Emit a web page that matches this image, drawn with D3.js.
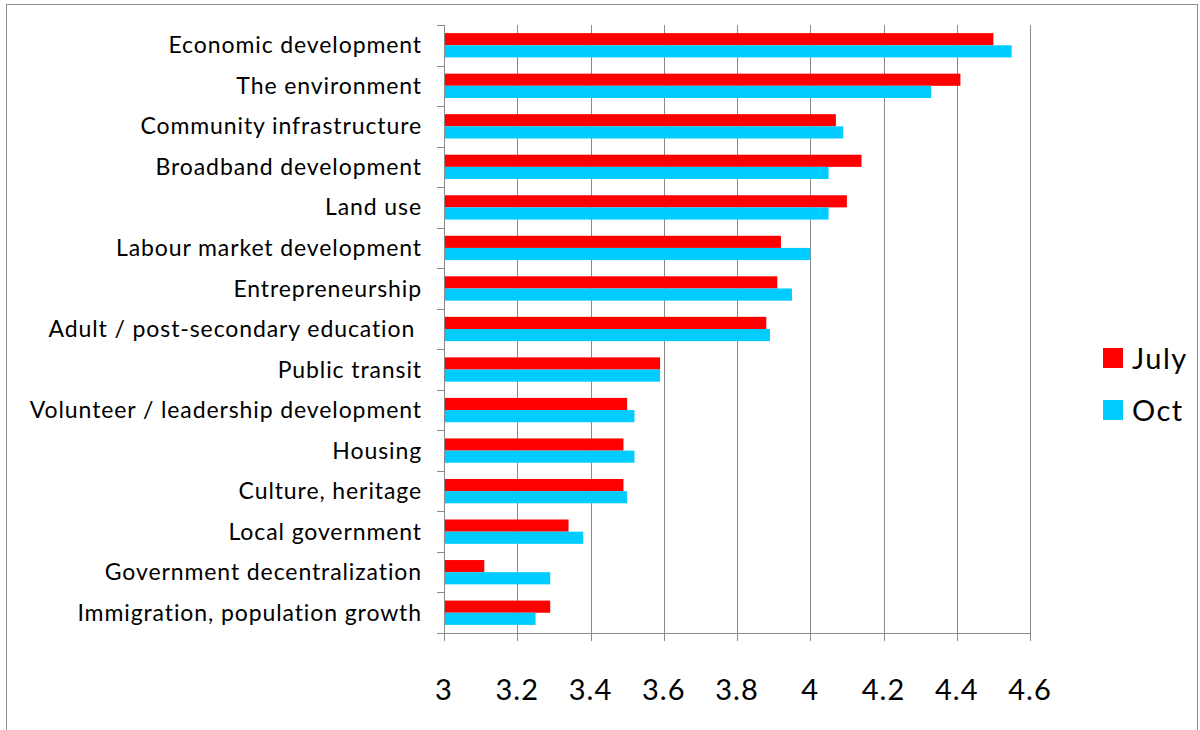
<!DOCTYPE html>
<html>
<head>
<meta charset="utf-8">
<script src="https://cdn.jsdelivr.net/npm/d3@7"></script>
<style>
  body { margin: 0; background: #fff; }
  svg { display: block; font-family: Lato, "Noto Sans", sans-serif; }
  .grid line { stroke: #8a8a8a; stroke-width: 1; }
</style>
</head>
<body>
<svg id="chart" width="1200" height="730"></svg>
<script>
// categories, top to bottom
var categories = [
    'Economic development', 'The environment', 'Community infrastructure',
    'Broadband development', 'Land use', 'Labour market development',
    'Entrepreneurship', 'Adult / post-secondary education ', 'Public transit',
    'Volunteer / leadership development', 'Housing', 'Culture, heritage',
    'Local government', 'Government decentralization', 'Immigration, population growth'
];
var july = [4.50, 4.41, 4.07, 4.14, 4.10, 3.92, 3.91, 3.88, 3.59, 3.50, 3.49, 3.49, 3.34, 3.11, 3.29];
var oct  = [4.55, 4.33, 4.09, 4.05, 4.05, 4.00, 3.95, 3.89, 3.59, 3.52, 3.52, 3.50, 3.38, 3.29, 3.25];
var seriesNames = ['July', 'Oct'];
var seriesColors = ['#ff0000', '#00ccff'];
var xTicks = [3, 3.2, 3.4, 3.6, 3.8, 4, 4.2, 4.4, 4.6];

var rows = categories.map(function(c, i){
    return { name: c, values: [july[i], oct[i]] };
});

var svg = d3.select('#chart');
var margin = { left: 444, top: 25, right: 170, bottom: 97 };
var width = 1200 - margin.left - margin.right;
var height = 730 - margin.top - margin.bottom;

// chart frame
svg.append('rect')
    .attr('x', 6.5).attr('y', 4.5)
    .attr('width', 1191).attr('height', 740)
    .attr('fill', 'none')
    .attr('stroke', '#8c8c8c');

var g = svg.append('g').attr('transform', 'translate(' + margin.left + ',' + margin.top + ')');

var x = d3.scaleLinear().domain([3, 4.6]).range([0, width]);
var y = d3.scaleBand().domain(categories).range([0, height]).paddingInner(0.4).paddingOuter(0.2);
var ySub = d3.scaleBand().domain(seriesNames).range([0, y.bandwidth()]);

// vertical gridlines
g.append('g').attr('class', 'grid')
    .selectAll('line')
    .data(xTicks.slice(1))
    .enter()
    .append('line')
        .attr('x1', function(d){ return Math.round(x(d)) + 0.5; })
        .attr('x2', function(d){ return Math.round(x(d)) + 0.5; })
        .attr('y1', 0)
        .attr('y2', height);

// bars
var groups = g.selectAll('.row')
    .data(rows)
    .enter()
    .append('g')
        .attr('class', 'row')
        .attr('transform', function(d){ return 'translate(0,' + y(d.name) + ')'; });

groups.selectAll('rect')
    .data(function(d){ return d.values.map(function(v, i){ return { key: seriesNames[i], value: v, color: seriesColors[i] }; }); })
    .enter()
    .append('rect')
        .attr('x', 0)
        .attr('y', function(d){ return ySub(d.key); })
        .attr('width', function(d){ return x(d.value) - x(3); })
        .attr('height', ySub.bandwidth())
        .attr('fill', function(d){ return d.color; });

// y axis: line, ticks at band boundaries, labels
var yAxis = g.append('g').attr('class', 'grid');
yAxis.append('line').attr('x1', 0.5).attr('x2', 0.5).attr('y1', 0).attr('y2', height);
yAxis.selectAll('.tk')
    .data(d3.range(categories.length + 1))
    .enter()
    .append('line')
        .attr('x1', -7).attr('x2', 0)
        .attr('y1', function(i){ return Math.round(i * height / categories.length) + 0.5; })
        .attr('y2', function(i){ return Math.round(i * height / categories.length) + 0.5; });

g.selectAll('.ylabel')
    .data(categories)
    .enter()
    .append('text')
        .attr('class', 'ylabel')
        .attr('x', -22)
        .attr('y', function(d){ return y(d) + y.bandwidth() / 2; })
        .attr('dy', '0.35em')
        .attr('text-anchor', 'end')
        .attr('font-size', 23)
        .attr('letter-spacing', 0.9)
        .attr('fill', '#000')
        .style('white-space', 'pre')
        .text(function(d){ return d; });

// x axis
var xAxis = g.append('g').attr('class', 'grid');
xAxis.append('line').attr('x1', 0).attr('x2', width).attr('y1', height + 0.5).attr('y2', height + 0.5);
xAxis.selectAll('.tk')
    .data(xTicks)
    .enter()
    .append('line')
        .attr('x1', function(d){ return Math.round(x(d)) + 0.5; })
        .attr('x2', function(d){ return Math.round(x(d)) + 0.5; })
        .attr('y1', height).attr('y2', height + 8);

g.selectAll('.xlabel')
    .data(xTicks)
    .enter()
    .append('text')
        .attr('class', 'xlabel')
        .attr('x', function(d){ return x(d); })
        .attr('y', height + 67)
        .attr('text-anchor', 'middle')
        .attr('font-size', 29)
        .attr('letter-spacing', 1)
        .attr('fill', '#000')
        .text(function(d){ return d; });

// legend
var legend = svg.append('g').attr('transform', 'translate(1103,348)');
var li = legend.selectAll('g')
    .data(seriesNames)
    .enter()
    .append('g')
        .attr('transform', function(d, i){ return 'translate(0,' + (i * 52) + ')'; });
li.append('rect')
    .attr('width', 20).attr('height', 20)
    .attr('fill', function(d, i){ return seriesColors[i]; });
li.append('text')
    .attr('x', 29).attr('y', 21)
    .attr('font-size', 29)
    .attr('letter-spacing', 1.5)
    .attr('fill', '#000')
    .text(function(d){ return d; });
</script>
</body>
</html>
